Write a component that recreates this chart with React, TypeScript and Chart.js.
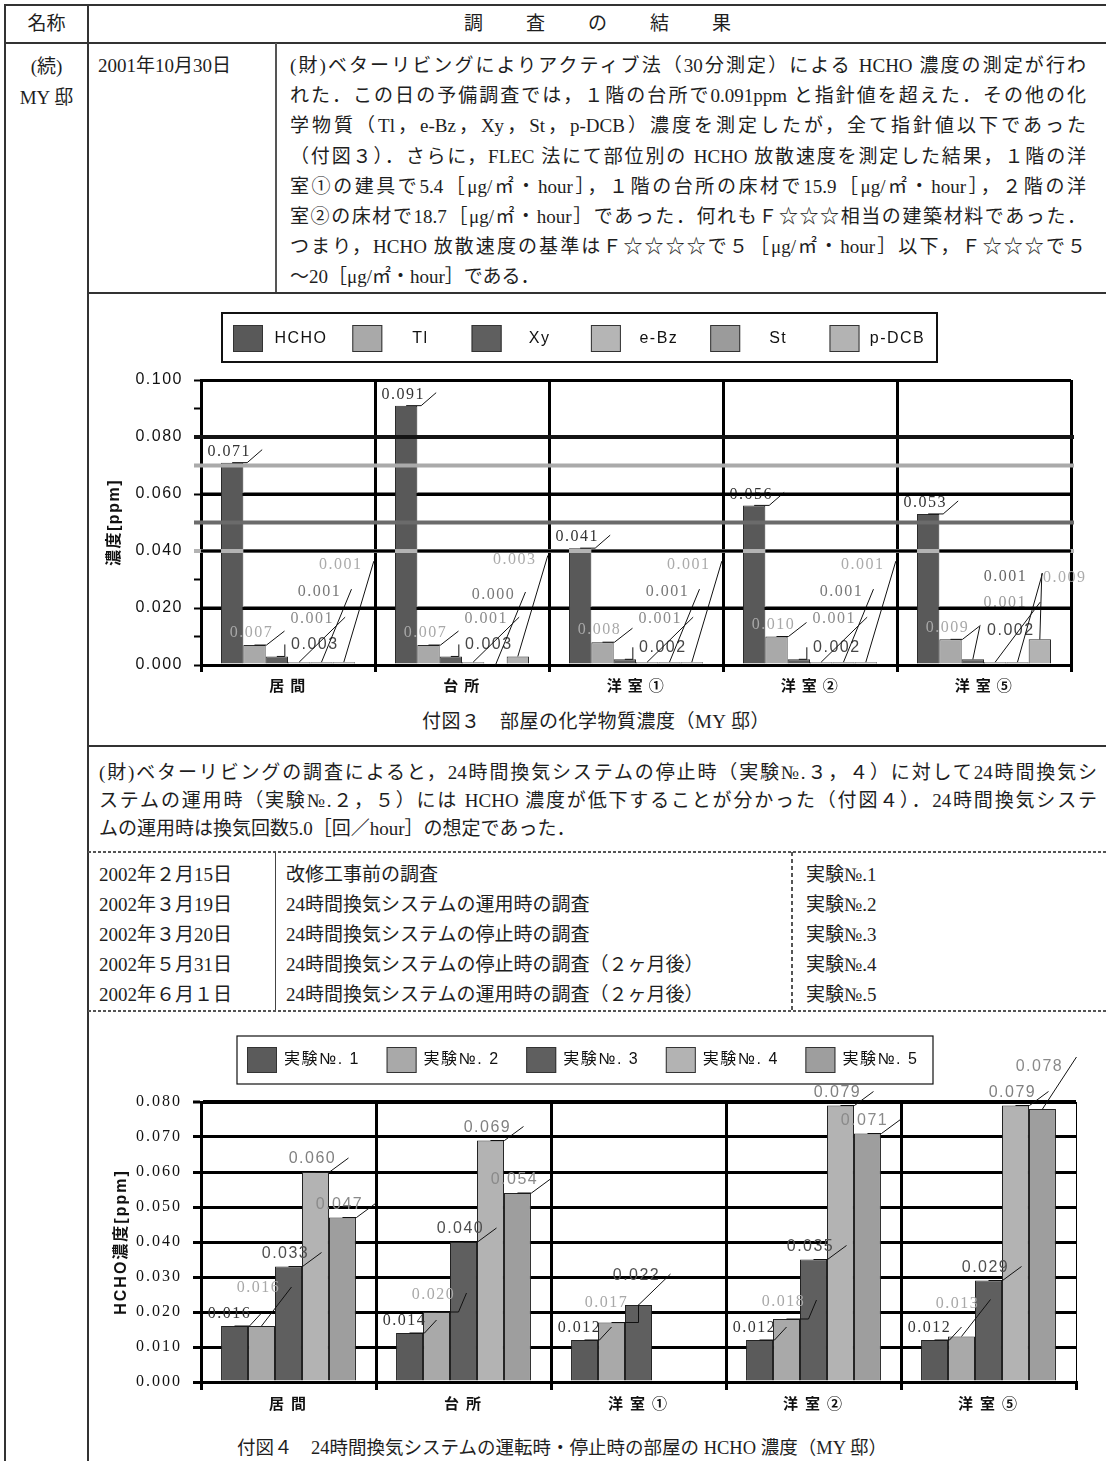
import React, { useEffect, useRef } from 'react';
import { Chart, registerables } from 'chart.js';

Chart.register(...registerables);

const SERIF = '"Liberation Serif", "Noto Sans CJK JP", serif';
const SANS = '"Liberation Sans", "Noto Sans CJK JP", sans-serif';

// ---------- data ----------
const rooms = ['居間', '台所', '洋室①', '洋室②', '洋室⑤'];

// 付図3 部屋の化学物質濃度 [ppm]
const chemNames = ['HCHO', 'Tl', 'Xy', 'e-Bz', 'St', 'p-DCB'];
const hchoPpm = [0.071, 0.091, 0.041, 0.056, 0.053];
const tlPpm = [0.007, 0.007, 0.008, 0.010, 0.009];
const xyPpm = [0.003, 0.003, 0.002, 0.002, 0.002];
const ebzPpm = [0.001, 0.001, 0.001, 0.001, 0.001];
const stPpm = [0.001, 0.000, 0.001, 0.001, 0.001];
const pdcbPpm = [0.001, 0.003, 0.001, 0.001, 0.009];
// 指針値 (HCHO, Tl, St, p-DCB)
const guidelinePpm = [0.08, 0.07, 0.05, 0.04];
const chemAxisMax = 0.1;
const chemAxisStep = 0.01;
const chemLabelEvery = 2; // label every 2nd tick (0.020 steps)

// 付図4 24時間換気システムの運転時・停止時の HCHO 濃度 [ppm]
const expNames = ['実験№. 1', '実験№. 2', '実験№. 3', '実験№. 4', '実験№. 5'];
const exp1 = [0.016, 0.014, 0.012, 0.012, 0.012];
const exp2 = [0.016, 0.020, 0.017, 0.018, 0.013];
const exp3 = [0.033, 0.040, 0.022, 0.035, 0.029];
const exp4 = [0.060, 0.069, null, 0.079, 0.079];
const exp5 = [0.047, 0.054, null, 0.071, 0.078];
const hchoAxisMax = 0.08;
const hchoAxisStep = 0.01;

// ---------- styles ----------
const chemColors = ['#595959', '#a9a9a9', '#5f5f5f', '#b5b5b5', '#9b9b9b', '#b3b3b3'];
const guideColors = ['#141414', '#aaaaaa', '#6b6b6b', '#b3b3b3'];
const expColors = ['#5b5b5b', '#a9a9a9', '#5f5f5f', '#b3b3b3', '#9e9e9e'];

type Pt = [number, number];
type LabelStyle = { font: string; color: string; text: Pt; leader: Pt[] };

const serifLbl = `16px ${SERIF}`;
const sansLbl = `16px ${SANS}`;

const chemLabelStyles: LabelStyle[] = [
  { font: serifLbl, color: '#333333', text: [-3, -11], leader: [[0, 0], [15, 0], [30, -13]] },
  { font: serifLbl, color: '#a8a8a8', text: [-3, -12], leader: [[0, 0], [12, 0], [30, -14]] },
  { font: sansLbl, color: '#454545', text: [38, -12], leader: [[0, 0], [8, 0], [8, -12]] },
  { font: serifLbl, color: '#8a8a8a', text: [13, -43], leader: [[0, 0], [46, -45]] },
  { font: serifLbl, color: '#777777', text: [-2, -70], leader: [[0, 0], [30, -73]] },
  { font: serifLbl, color: '#ababab', text: [-3, -97], leader: [[0, 0], [30, -101]] },
];
const chemLabelOverrides: Record<string, Partial<LabelStyle>> = {
  '2-4': { text: [38, -29], leader: [[0, 0], [7, -33]] },
  '3-4': { text: [10, -59], color: '#9a9a9a', leader: [[0, 0], [45, -60]] },
  '4-4': { text: [-12, -85], color: '#666666', leader: [[0, 0], [25, -89]] },
  '5-4': { text: [25, -62], leader: [[0, 0], [2, -66]] },
};

const expLabelStyles: LabelStyle[] = [
  { font: serifLbl, color: '#333333', text: [-5, -12], leader: [[0, 0], [15, 0], [27, -13]] },
  { font: serifLbl, color: '#a8a8a8', text: [-3, -17], leader: [[0, 0], [22, 0], [30, -19]] },
  { font: sansLbl, color: '#4f4f4f', text: [-3, -13], leader: [[0, 0], [14, 0], [33, -14]] },
  { font: sansLbl, color: '#808080', text: [-3, -13], leader: [[0, 0], [14, 0], [33, -14]] },
  { font: sansLbl, color: '#8a8a8a', text: [-3, -13], leader: [[0, 0], [14, 0], [33, -14]] },
];
const expLabelOverrides: Record<string, Partial<LabelStyle>> = {
  '1-0': { text: [-3, -38], leader: [[0, 0], [30, -39]] },
  '1-2': { text: [-5, -20], leader: [[0, 0], [27, 0], [27, -18]] },
  '1-4': { text: [-4, -33], leader: [[0, 0], [29, -37]] },
  '2-2': { text: [-2, -29], leader: [[0, 0], [32, -31]] },
  '4-4': { text: [-3, -42], leader: [[0, 0], [34, -52]] },
};

// ---------- plugins ----------
const spacingPlugin = (px: string) => ({
  id: 'tickSpacing',
  beforeDraw(chart: any) { chart.ctx.letterSpacing = px; },
  afterDraw(chart: any) { chart.ctx.letterSpacing = '0px'; },
});

// gray guideline levels drawn over the bars
const chemGuidePlugin = {
  id: 'chemGuides',
  afterDatasetsDraw(chart: any) {
    const { ctx, chartArea } = chart;
    const y = chart.scales.y;
    ctx.save();
    guidelinePpm.forEach((v, i) => {
      if (i === 0) return;
      const py = y.getPixelForValue(v);
      ctx.fillStyle = guideColors[i];
      ctx.fillRect(chartArea.left - 7, py - 2, chartArea.right - chartArea.left + 10, 4);
    });
    ctx.restore();
  },
};

// black rules, painted last: major gridlines only in the gaps between bars,
// the HCHO guideline straight across
const chemRulesPlugin = {
  id: 'chemRules',
  afterDraw(chart: any) {
    const { ctx, chartArea } = chart;
    const y = chart.scales.y;
    const bars: { x0: number; x1: number; top: number }[] = [];
    chart.data.datasets.forEach((_ds: any, i: number) => {
      chart.getDatasetMeta(i).data.forEach((el: any) => {
        const p = el.getProps(['x', 'y', 'width'], true);
        bars.push({ x0: p.x - p.width / 2, x1: p.x + p.width / 2, top: p.y });
      });
    });
    ctx.save();
    ctx.fillStyle = '#000';
    y.ticks.forEach((t: any, i: number) => {
      if (i % chemLabelEvery !== 0) return;
      const py = y.getPixelForValue(t.value);
      if (py >= chartArea.bottom - 1 || py <= chartArea.top + 1) return;
      const cover = bars
        .filter((b) => b.top < py - 1)
        .map((b) => [b.x0, b.x1] as [number, number])
        .sort((a, b) => a[0] - b[0]);
      let x = chartArea.left;
      cover.forEach(([a, b]) => {
        if (a > x) ctx.fillRect(x, py - 1.5, a - x, 3);
        x = Math.max(x, b);
      });
      if (x < chartArea.right) ctx.fillRect(x, py - 1.5, chartArea.right - x, 3);
    });
    const gy = y.getPixelForValue(guidelinePpm[0]);
    ctx.fillStyle = guideColors[0];
    ctx.fillRect(chartArea.left - 7, gy - 2, chartArea.right - chartArea.left + 10, 4);
    ctx.restore();
  },
};

function labelPlugin(styles: LabelStyle[], overrides: Record<string, Partial<LabelStyle>>) {
  return {
    id: 'calloutLabels',
    afterDatasetsDraw(chart: any) {
      const ctx = chart.ctx;
      chart.data.datasets.forEach((ds: any, i: number) => {
        const meta = chart.getDatasetMeta(i);
        meta.data.forEach((el: any, j: number) => {
          const v = ds.data[j];
          if (v === null || v === undefined) return;
          const s = { ...styles[i], ...(overrides[`${i}-${j}`] || {}) } as LabelStyle;
          const { x, y } = el.getProps(['x', 'y'], true);
          ctx.save();
          ctx.strokeStyle = '#111';
          ctx.lineWidth = 1;
          ctx.beginPath();
          s.leader.forEach(([dx, dy], k) => {
            if (k === 0) ctx.moveTo(x + dx, y + dy);
            else ctx.lineTo(x + dx, y + dy);
          });
          ctx.stroke();
          ctx.font = s.font;
          ctx.fillStyle = s.color;
          ctx.textAlign = 'center';
          ctx.textBaseline = 'middle';
          ctx.letterSpacing = '1.5px';
          ctx.fillText(Number(v).toFixed(3), x + s.text[0], y + s.text[1]);
          ctx.restore();
        });
      });
    },
  };
}

type LegendLayout = {
  box: [number, number, number, number];
  boxLine: number;
  first: number;
  pitch: number;
  swY: number;
  swW: number;
  swH: number;
  textDx: number;
  textY: number;
  font: string;
};

function legendPlugin(L: LegendLayout) {
  return {
    id: 'boxLegend',
    afterDraw(chart: any) {
      const ctx = chart.ctx;
      ctx.save();
      const [bx, by, bw, bh] = L.box;
      ctx.lineWidth = L.boxLine;
      ctx.strokeStyle = '#111';
      ctx.strokeRect(bx, by, bw, bh);
      chart.data.datasets.forEach((ds: any, i: number) => {
        const sx = L.first + i * L.pitch;
        ctx.fillStyle = ds.backgroundColor;
        ctx.fillRect(sx, L.swY, L.swW, L.swH);
        ctx.lineWidth = 1;
        ctx.strokeStyle = '#333';
        ctx.strokeRect(sx + 0.5, L.swY + 0.5, L.swW - 1, L.swH - 1);
        ctx.fillStyle = '#111';
        ctx.font = L.font;
        ctx.textAlign = 'center';
        ctx.textBaseline = 'middle';
        ctx.letterSpacing = '1.5px';
        ctx.fillText(ds.label, sx + L.textDx, L.textY);
      });
      ctx.restore();
    },
  };
}

const spaced = (s: string) => Array.from(s).join('\u2009');

// ---------- chart configs ----------
function chemConfig(): any {
  const series = [hchoPpm, tlPpm, xyPpm, ebzPpm, stPpm, pdcbPpm];
  return {
    type: 'bar',
    data: {
      labels: rooms,
      datasets: series.map((d, i) => ({
        label: chemNames[i],
        data: d,
        backgroundColor: chemColors[i],
        borderColor: '#2a2a2a',
        borderWidth: 1,
        categoryPercentage: 0.77,
        barPercentage: 1,
      })),
    },
    options: {
      animation: false,
      responsive: false,
      maintainAspectRatio: false,
      layout: { padding: { top: 84, right: 33, left: 0, bottom: 0 } },
      plugins: { legend: { display: false }, tooltip: { enabled: false } },
      scales: {
        x: {
          grid: { offset: true, color: '#000', lineWidth: 3, tickLength: 7, tickWidth: 3, tickColor: '#000' },
          border: { display: true, color: '#000', width: 3 },
          ticks: {
            color: '#111',
            font: { family: SANS, size: 15, weight: 'bold' },
            padding: 6,
            callback: (_v: any, i: number) => spaced(rooms[i]),
          },
          afterFit: (s: any) => { s.height = 41; },
        },
        y: {
          min: 0,
          max: chemAxisMax,
          ticks: {
            stepSize: chemAxisStep,
            autoSkip: false,
            color: '#111',
            font: { family: SANS, size: 16 },
            padding: 11,
            callback: (v: any, i: number) => (i % chemLabelEvery === 0 ? Number(v).toFixed(3) : ''),
          },
          grid: {
            color: (c: any) => (c.type === 'tick' && c.index % chemLabelEvery === 0 ? '#000' : 'rgba(0,0,0,0)'),
            lineWidth: 3,
            tickLength: 7,
            tickWidth: 2,
            tickColor: '#000',
          },
          border: { display: true, color: '#000', width: 3 },
          title: {
            display: true,
            text: '濃度[ppm]',
            color: '#111',
            font: { family: SANS, size: 16, weight: 'bold' },
            padding: { top: 15, bottom: 0 },
          },
          afterFit: (s: any) => { s.width = 111; },
        },
      },
    },
    plugins: [
      spacingPlugin('1.5px'),
      chemGuidePlugin,
      labelPlugin(chemLabelStyles, chemLabelOverrides),
      legendPlugin({
        box: [132, 17, 715, 49],
        boxLine: 2,
        first: 143,
        pitch: 119.3,
        swY: 29,
        swW: 30,
        swH: 27,
        textDx: 68,
        textY: 43,
        font: `16px ${SANS}`,
      }),
      chemRulesPlugin,
    ],
  };
}

function hchoConfig(): any {
  const series = [exp1, exp2, exp3, exp4, exp5];
  return {
    type: 'bar',
    data: {
      labels: rooms,
      datasets: series.map((d, i) => ({
        label: expNames[i],
        data: d,
        backgroundColor: expColors[i],
        borderColor: '#222',
        borderWidth: 1,
        categoryPercentage: 0.771,
        barPercentage: 1,
      })),
    },
    options: {
      animation: false,
      responsive: false,
      maintainAspectRatio: false,
      layout: { padding: { top: 88, right: 28, left: 0, bottom: 0 } },
      plugins: { legend: { display: false }, tooltip: { enabled: false } },
      scales: {
        x: {
          grid: {
            offset: true,
            color: '#000',
            lineWidth: (c: any) => (c.type === 'tick' ? 3 : 1),
            tickLength: 8,
            tickWidth: 3,
            tickColor: '#000',
          },
          border: { display: true, color: '#000', width: 3 },
          ticks: {
            color: '#111',
            font: { family: SANS, size: 15, weight: 'bold' },
            padding: 6,
            callback: (_v: any, i: number) => spaced(rooms[i]),
          },
          afterFit: (s: any) => { s.height = 42; },
        },
        y: {
          min: 0,
          max: hchoAxisMax,
          ticks: {
            stepSize: hchoAxisStep,
            autoSkip: false,
            color: '#111',
            font: { family: SERIF, size: 16 },
            padding: 11,
            callback: (v: any) => Number(v).toFixed(3),
          },
          grid: {
            color: '#000',
            lineWidth: (c: any) => (c.type === 'tick' && c.tick && Math.abs(c.tick.value - hchoAxisMax) < 1e-9 ? 4 : 3),
            tickLength: 8,
            tickWidth: 3,
            tickColor: '#000',
          },
          border: { display: true, color: '#000', width: 3 },
          title: {
            display: true,
            text: 'HCHO濃度[ppm]',
            color: '#111',
            font: { family: SANS, size: 16, weight: 'bold' },
            padding: { top: 22, bottom: 0 },
          },
          afterFit: (s: any) => { s.width = 111; },
        },
      },
    },
    plugins: [
      spacingPlugin('2px'),
      labelPlugin(expLabelStyles, expLabelOverrides),
      legendPlugin({
        box: [147, 22, 696, 48],
        boxLine: 1.2,
        first: 157,
        pitch: 139.6,
        swY: 33,
        swW: 30,
        swH: 26,
        textDx: 75,
        textY: 46,
        font: `16px ${SANS}`,
      }),
    ],
  };
}

function ChartCanvas({ make, left, top, width, height }: { make: () => any; left: number; top: number; width: number; height: number }) {
  const ref = useRef<HTMLCanvasElement>(null);
  useEffect(() => {
    const canvas = ref.current as HTMLCanvasElement;
    canvas.getContext('2d', { willReadFrequently: true });
    const chart = new Chart(canvas, make());
    return () => chart.destroy();
  }, []);
  return <canvas ref={ref} width={width} height={height} style={{ position: 'absolute', left, top, width, height }} />;
}

// ---------- page pieces ----------
function Rule({ x, y, w, h, color = '#333' }: { x: number; y: number; w: number; h: number; color?: string }) {
  return <div style={{ position: 'absolute', left: x, top: y, width: w, height: h, background: color }} />;
}

function DashH({ x, y, w }: { x: number; y: number; w: number }) {
  return (
    <div
      style={{
        position: 'absolute', left: x, top: y, width: w, height: 1.5,
        background: 'repeating-linear-gradient(90deg, #555 0 3px, transparent 3px 5px)',
      }}
    />
  );
}

function DashV({ x, y, h }: { x: number; y: number; h: number }) {
  return (
    <div
      style={{
        position: 'absolute', left: x, top: y, width: 1.5, height: h,
        background: 'repeating-linear-gradient(180deg, #555 0 4px, transparent 4px 7px)',
      }}
    />
  );
}

function TextLine({ x, cy, w, text, justify = true, size = 19, lh = 28 }: { x: number; cy: number; w?: number; text: React.ReactNode; justify?: boolean; size?: number; lh?: number }) {
  return (
    <div
      style={{
        position: 'absolute', left: x, top: cy - lh / 2, width: w, height: lh, lineHeight: `${lh}px`,
        fontSize: size, fontFamily: SERIF, color: '#1e1e1e',
        textAlign: justify ? 'justify' : 'left',
        textAlignLast: justify ? 'justify' : 'auto',
        whiteSpace: w ? 'normal' : 'nowrap',
      } as React.CSSProperties}
    >
      {text}
    </div>
  );
}

const row1Lines = [
  '(財)ベターリビングによりアクティブ法（30分測定）による HCHO 濃度の測定が行わ',
  'れた．この日の予備調査では，１階の台所で0.091ppm と指針値を超えた．その他の化',
  '学物質（Tl，e-Bz，Xy，St，p-DCB）濃度を測定したが，全て指針値以下であった',
  '（付図３）．さらに，FLEC 法にて部位別の HCHO 放散速度を測定した結果，１階の洋',
  '室①の建具で5.4［μg/㎡・hour］，１階の台所の床材で15.9［μg/㎡・hour］，２階の洋',
  '室②の床材で18.7［μg/㎡・hour］であった．何れもＦ☆☆☆相当の建築材料であった．',
  'つまり，HCHO 放散速度の基準はＦ☆☆☆☆で５［μg/㎡・hour］以下，Ｆ☆☆☆で５',
  '～20［μg/㎡・hour］である．',
];

const para2Lines = [
  '(財)ベターリビングの調査によると，24時間換気システムの停止時（実験№.３，４）に対して24時間換気シ',
  'ステムの運用時（実験№.２，５）には HCHO 濃度が低下することが分かった（付図４）．24時間換気システ',
  'ムの運用時は換気回数5.0［回／hour］の想定であった．',
];

const surveyDates = ['2002年２月15日', '2002年３月19日', '2002年３月20日', '2002年５月31日', '2002年６月１日'];
const surveyNotes = [
  '改修工事前の調査',
  '24時間換気システムの運用時の調査',
  '24時間換気システムの停止時の調査',
  '24時間換気システムの停止時の調査（２ヶ月後）',
  '24時間換気システムの運用時の調査（２ヶ月後）',
];
const surveyIds = ['実験№.1', '実験№.2', '実験№.3', '実験№.4', '実験№.5'];

export default function App() {
  return (
    <div
      lang="ja"
      style={{ position: 'absolute', left: 0, top: 0, width: 1106, height: 1461, background: '#fff', overflow: 'hidden', fontFamily: SERIF }}
    >
      {/* table frame */}
      <Rule x={4} y={4} w={1102} h={2} />
      <Rule x={4} y={4} w={2} h={1457} />
      <Rule x={87} y={4} w={2} h={1457} />
      <Rule x={4} y={42} w={1102} h={2} />
      <Rule x={275} y={43} w={1.5} h={250} color="#555" />
      <Rule x={88} y={292} w={1018} h={2} />
      <Rule x={88} y={745} w={1018} h={1.5} />
      <DashH x={88} y={851} w={1018} />
      <DashH x={88} y={1010} w={1018} />
      <Rule x={275} y={852} w={1} h={158} color="#444" />
      <DashV x={791} y={852} h={158} />

      {/* header */}
      <TextLine x={5} cy={24} w={83} text={<div style={{ textAlign: 'center' }}>名称</div>} justify={false} />
      <div
        style={{
          position: 'absolute', left: 89, top: 10, width: 1017, height: 28, lineHeight: '28px',
          fontSize: 19, textAlign: 'center', letterSpacing: 12, paddingLeft: 12, boxSizing: 'border-box', color: '#1e1e1e',
        }}
      >
        調　査　の　結　果
      </div>

      {/* name column */}
      <div style={{ position: 'absolute', left: 6, top: 51, width: 81, textAlign: 'center', fontSize: 19, lineHeight: '31px', color: '#1e1e1e' }}>
        (続)
        <br />
        MY 邸
      </div>

      {/* row 1 */}
      <TextLine x={98} cy={66} text="2001年10月30日" justify={false} />
      {row1Lines.map((t, i) => (
        <TextLine key={i} x={290} cy={66 + i * 30.2} w={796} text={t} justify={i < row1Lines.length - 1} lh={30} />
      ))}

      {/* 付図3 */}
      <ChartCanvas make={chemConfig} left={90} top={296} width={1014} height={410} />
      <div style={{ position: 'absolute', left: 296, top: 708, width: 600, textAlign: 'center', fontSize: 19, lineHeight: '28px', color: '#1e1e1e', letterSpacing: 0.5 }}>
        <span style={{ fontFamily: SANS }}>付図３</span>　部屋の化学物質濃度（MY 邸）
      </div>

      {/* paragraph 2 */}
      {para2Lines.map((t, i) => (
        <TextLine key={i} x={99} cy={773 + i * 28} w={998} text={t} justify={i < para2Lines.length - 1} />
      ))}

      {/* survey list */}
      {surveyDates.map((d, i) => (
        <React.Fragment key={i}>
          <TextLine x={99} cy={875 + i * 30} text={d} justify={false} />
          <TextLine x={286} cy={875 + i * 30} text={surveyNotes[i]} justify={false} />
          <TextLine x={806} cy={875 + i * 30} text={surveyIds[i]} justify={false} />
        </React.Fragment>
      ))}

      {/* 付図4 */}
      <ChartCanvas make={hchoConfig} left={90} top={1014} width={1014} height={410} />
      <div style={{ position: 'absolute', left: 162, top: 1434, width: 800, textAlign: 'center', fontSize: 18.5, lineHeight: '28px', color: '#1e1e1e', whiteSpace: 'nowrap' }}>
        <span style={{ fontFamily: SANS }}>付図４</span>　24時間換気システムの運転時・停止時の部屋の HCHO 濃度（MY 邸）
      </div>
    </div>
  );
}
